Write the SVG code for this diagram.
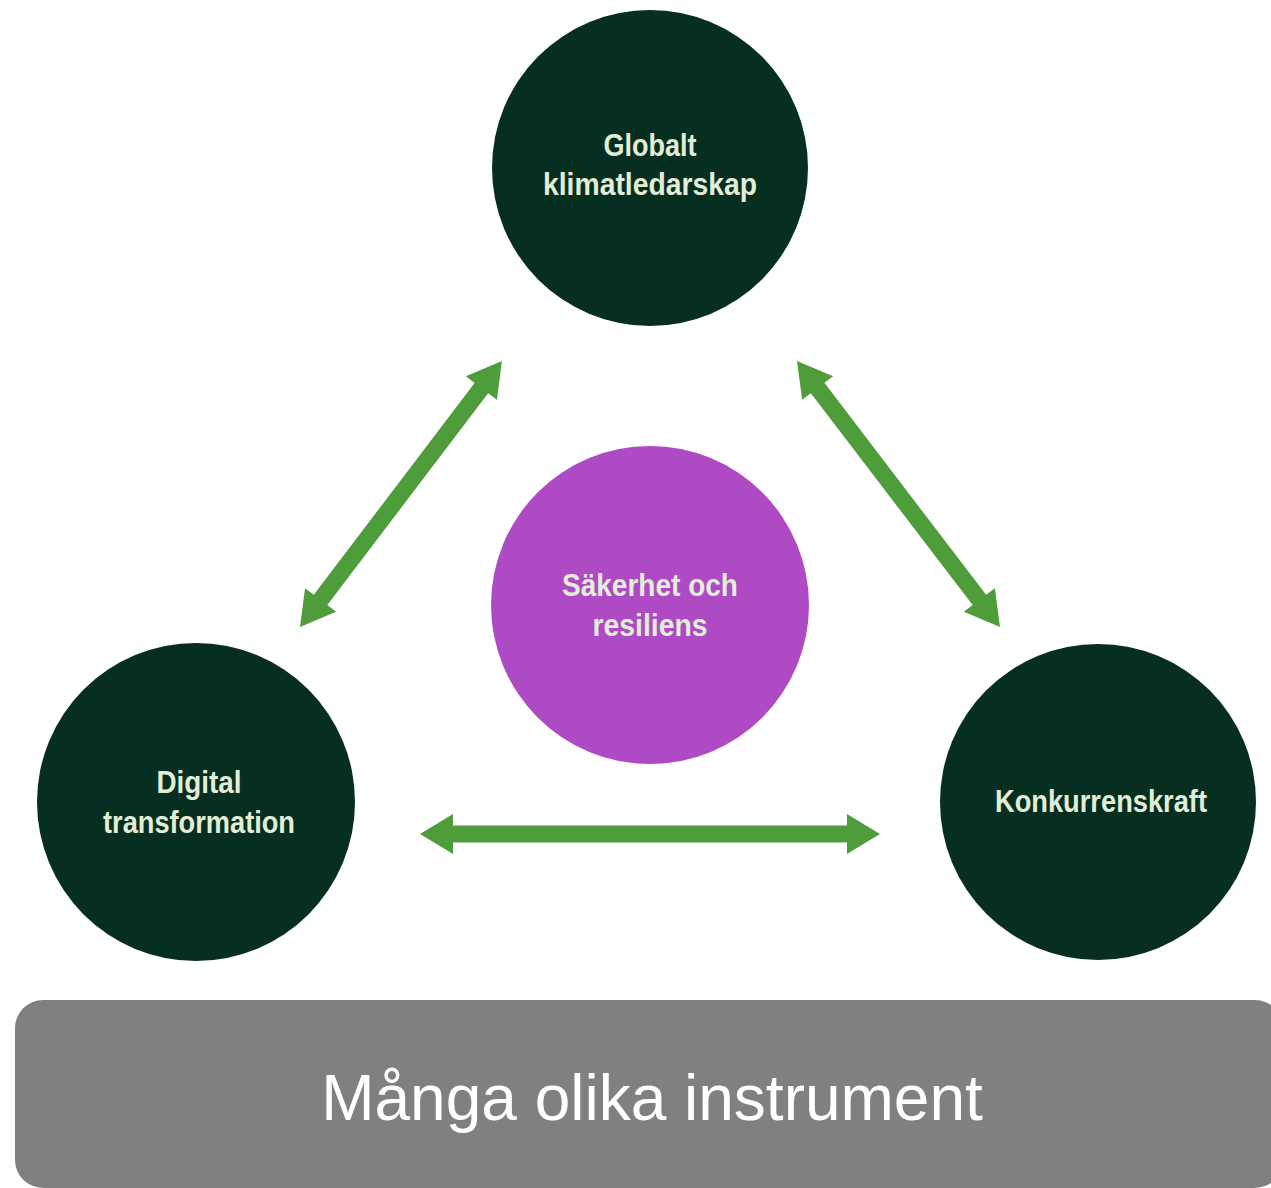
<svg xmlns="http://www.w3.org/2000/svg" width="1271" height="1188" viewBox="0 0 1271 1188">
<style>
.dark{fill:#062f21}
.purple{fill:#ae4ac4}
.lbl{font-family:"Liberation Sans","Arial",sans-serif;font-weight:bold;font-size:31px;fill:#e2eed7;text-anchor:middle}
.arrow{fill:#4e9d3a}
.big{font-family:"Liberation Sans","Arial",sans-serif;font-size:64px;fill:#ffffff;text-anchor:middle}
</style>
<rect width="1271" height="1188" fill="#ffffff"/>
<g id="connectors">
<path class="arrow" transform="translate(420,834)" d="M0,0 L33,-20 L33,-8.5 L427,-8.5 L427,-20 L460,0 L427,20 L427,8.5 L33,8.5 L33,20 Z"/>
<path class="arrow" transform="translate(300,627) rotate(-52.8)" d="M0,0 L34,-19.5 L34,-8.5 L300,-8.5 L300,-19.5 L334,0 L300,19.5 L300,8.5 L34,8.5 L34,19.5 Z"/>
<path class="arrow" transform="translate(797,361) rotate(52.65)" d="M0,0 L34,-19.5 L34,-8.5 L300.6,-8.5 L300.6,-19.5 L334.6,0 L300.6,19.5 L300.6,8.5 L34,8.5 L34,19.5 Z"/>
</g>
<g id="node-globalt">
<circle class="dark" cx="650" cy="168" r="158"/>
<text class="lbl" x="650" y="156" textLength="93" lengthAdjust="spacingAndGlyphs">Globalt</text>
<text class="lbl" x="650" y="195" textLength="214" lengthAdjust="spacingAndGlyphs">klimatledarskap</text>
</g>
<g id="node-sakerhet">
<circle class="purple" cx="650" cy="605" r="159"/>
<text class="lbl" x="650" y="596" textLength="176" lengthAdjust="spacingAndGlyphs">Säkerhet och</text>
<text class="lbl" x="650" y="636" textLength="115" lengthAdjust="spacingAndGlyphs">resiliens</text>
</g>
<g id="node-digital">
<circle class="dark" cx="196" cy="802" r="159"/>
<text class="lbl" x="199" y="793" textLength="85" lengthAdjust="spacingAndGlyphs">Digital</text>
<text class="lbl" x="199" y="833" textLength="192" lengthAdjust="spacingAndGlyphs">transformation</text>
</g>
<g id="node-konkurrenskraft">
<circle class="dark" cx="1098" cy="802" r="158"/>
<text class="lbl" x="1101" y="812" textLength="212" lengthAdjust="spacingAndGlyphs">Konkurrenskraft</text>
</g>
<g id="node-instrument">
<rect x="15" y="1000" width="1268" height="188" rx="28" fill="#808080"/>
<text class="big" x="652" y="1120">Många olika instrument</text>
</g>
</svg>
